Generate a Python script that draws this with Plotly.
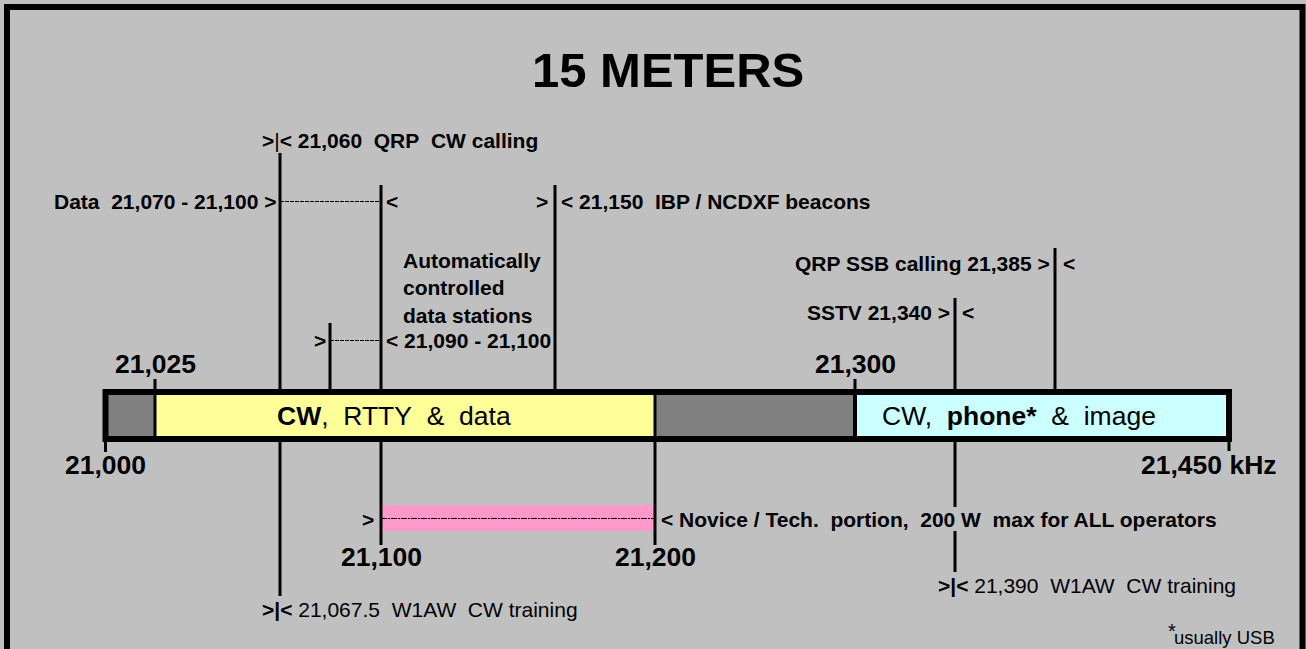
import numpy as np
import plotly.graph_objects as go

# ---------------- data ----------------
TITLE = "15 METERS"

# Band segments (kHz)
SEG_START = [21000, 21025, 21200, 21300]
SEG_END = [21025, 21200, 21300, 21450]
SEG_COLOR = ["#808080", "#FFFF99", "#808080", "#CCFFFF"]
SEG_LABEL = ["", "<b>CW</b>,  RTTY  &amp;  data", "", "CW,  <b>phone*</b>  &amp;  image"]

# Edge frequency labels
EDGE_KHZ = [21000, 21025, 21100, 21200, 21300, 21450]
EDGE_TEXT = ["21,000", "21,025", "21,100", "21,200", "21,300", "21,450 kHz"]

# Novice / Tech portion
NOVICE_KHZ = [21100, 21200]
NOVICE_TEXT = "< Novice / Tech.  portion,  200 W  max for ALL operators"

# Marker lines above the band
UP_KHZ = [21060, 21090, 21100, 21150, 21340, 21385]
# Marker lines below the band
DOWN_KHZ = [21060, 21100, 21200, 21340]

# Sub-band spans drawn as dashed brackets above the band
SPAN_START = [21060, 21090]
SPAN_END = [21100, 21100]
SPAN_LEFT_TEXT = ["Data  21,070 - 21,100 >", ">"]
SPAN_RIGHT_TEXT = ["<", "< 21,090 - 21,100"]

CALLING_TEXT = "21,060  QRP  CW calling"
BEACON_TEXT = "< 21,150  IBP / NCDXF beacons"
AUTO_TEXT = ["Automatically", "controlled", "data stations"]
QRP_SSB_TEXT = "QRP SSB calling 21,385 >"
SSTV_TEXT = "SSTV 21,340 >"
W1AW_TEXT = ["21,067.5  W1AW  CW training", "21,390  W1AW  CW training"]
FOOTNOTE = "usually USB"

# Schematic (not-to-scale) frequency scale of the diagram
SCALE_KHZ = [21000, 21025, 21060, 21090, 21100, 21150, 21200, 21300, 21340, 21385, 21450]
SCALE_POS = [105.5, 155, 280, 330, 381, 555, 655, 855, 955, 1055, 1229]


def pos(k):
    return float(np.interp(k, SCALE_KHZ, SCALE_POS))


def esc(s):
    return (s.replace("&", "&amp;").replace("<", "&lt;").replace(">", "&gt;")
            .replace("  ", "\u00a0\u00a0"))


def sp(s):
    return s.replace("  ", "\u00a0\u00a0")


FONT = "Liberation Sans, Arial, sans-serif"
BG = "#C0C0C0"
SMALL = 21
BIG = 26.5

fig = go.Figure()
# invisible trace to establish the axes
fig.add_trace(go.Scatter(x=[pos(k) for k in EDGE_KHZ], y=[416] * len(EDGE_KHZ),
                         mode="markers", marker=dict(opacity=0, size=1), hoverinfo="skip",
                         showlegend=False))

shapes = []
ann = []


def text(x, y, s, anchor="left", size=SMALL, bold=True, raw=False):
    t = s if raw else esc(s)
    if bold:
        t = "<b>" + t + "</b>"
    ann.append(dict(x=x, y=y, xref="x", yref="y", text=t, showarrow=False,
                    xanchor=anchor, yanchor="middle", align=anchor,
                    font=dict(family=FONT, size=size, color="black")))


def vline(x, y0, y1, w=3):
    shapes.append(dict(type="line", xref="x", yref="y", x0=x, x1=x, y0=y0, y1=y1,
                       line=dict(color="black", width=w)))


BAR_TOP, BAR_BOT = 392, 439

# band segments
for s, e, c in zip(SEG_START, SEG_END, SEG_COLOR):
    shapes.append(dict(type="rect", xref="x", yref="y", x0=pos(s), x1=pos(e),
                       y0=BAR_TOP, y1=BAR_BOT, fillcolor=c, line=dict(width=0), layer="above"))
# dividers
for k, w in zip(SEG_START[1:], [3, 3, 4]):
    vline(pos(k), BAR_TOP, BAR_BOT, w)
# frame
shapes.append(dict(type="rect", xref="x", yref="y", x0=pos(SEG_START[0]), x1=pos(SEG_END[-1]),
                   y0=BAR_TOP, y1=BAR_BOT, line=dict(color="black", width=6)))

# novice band
shapes.append(dict(type="rect", xref="x", yref="y", x0=pos(NOVICE_KHZ[0]), x1=pos(NOVICE_KHZ[1]),
                   y0=505, y1=531, fillcolor="#FF99CC", line=dict(width=0), layer="below"))
shapes.append(dict(type="line", xref="x", yref="y", x0=pos(NOVICE_KHZ[0]), x1=pos(NOVICE_KHZ[1]),
                   y0=518.5, y1=518.5, line=dict(color="black", width=1, dash="6px,1px,2px,1px")))

# ticks at edges
vline(pos(21000), 442, 452)
vline(pos(21450), 442, 451)
vline(pos(21025), 379, 389)
vline(pos(21300), 379, 389)

# upper marker lines
UP_TOP = [153, 323, 185, 185, 298, 248]
for k, t in zip(UP_KHZ, UP_TOP):
    vline(pos(k), t, 389)
# lower marker lines
DOWN_BOT = [596, 545, 545, 572]
for k, b in zip(DOWN_KHZ, DOWN_BOT):
    if k == 21340:
        vline(pos(k), 442, 507)
        vline(pos(k), 531, b)
    else:
        vline(pos(k), 442, b)

# dashed spans
SPAN_Y = [201, 340]
for s, e, y, lt, rt in zip(SPAN_START, SPAN_END, SPAN_Y, SPAN_LEFT_TEXT, SPAN_RIGHT_TEXT):
    shapes.append(dict(type="line", xref="x", yref="y", x0=pos(s), x1=pos(e), y0=y + 0.5, y1=y + 0.5,
                       line=dict(color="black", width=1, dash="4px,1px")))
    text(pos(s) - 2, y, lt, "right")
    text(pos(e) + 3, y, rt, "left")

# title
text(668, 70, TITLE, "center", size=49)

# QRP CW calling
text(260, 140, "<b>&gt;</b>|<b>&lt; " + sp(CALLING_TEXT) + "</b>", "left", bold=False, raw=True)
# beacons
text(pos(21150) - 5, 201, ">", "right")
text(pos(21150) + 4, 201, BEACON_TEXT, "left")
# automatically controlled
text(401, 288, "<br>".join(AUTO_TEXT), "left", raw=True)
# QRP SSB / SSTV
text(pos(21385) - 3, 263, QRP_SSB_TEXT, "right")
text(pos(21385) + 6, 263, "<", "left")
text(pos(21340) - 3, 312, SSTV_TEXT, "right")
text(pos(21340) + 5, 312, "<", "left")

# edge labels
EDGE_ANCHOR = ["center", "center", "center", "center", "center", "left"]
EDGE_Y = [465, 364, 557, 557, 364, 465]
for k, t, a, y in zip(EDGE_KHZ, EDGE_TEXT, EDGE_ANCHOR, EDGE_Y):
    x = pos(k) if a == "center" else pos(k) - 90
    text(x, y, t, a, size=BIG)

# bar labels
text(394, 416, sp(SEG_LABEL[1]), "center", size=BIG, bold=False, raw=True)
text(1019, 416, sp(SEG_LABEL[3]), "center", size=BIG, bold=False, raw=True)

# novice text
text(pos(NOVICE_KHZ[0]) - 5, 519, ">", "right")
text(pos(NOVICE_KHZ[1]) + 4, 519, NOVICE_TEXT, "left")

# W1AW
text(260, 609, "<b>&gt;|&lt;</b> " + sp(W1AW_TEXT[0]), "left", bold=False, raw=True)
text(936, 585, "<b>&gt;|&lt;</b> " + sp(W1AW_TEXT[1]), "left", bold=False, raw=True)

# footnote
text(1277, 637, FOOTNOTE, "right", size=18.5, bold=False)
text(1172, 631, "*", "center", size=20, bold=False)

# outer border
shapes.append(dict(type="rect", xref="x", yref="y", x0=7, x1=1302.5, y0=7, y1=720,
                   line=dict(color="black", width=6)))

fig.update_layout(
    width=1306, height=649,
    margin=dict(l=0, r=0, t=0, b=0),
    paper_bgcolor=BG, plot_bgcolor=BG,
    xaxis=dict(range=[0, 1306], visible=False, fixedrange=True),
    yaxis=dict(range=[649, 0], visible=False, fixedrange=True),
    shapes=shapes, annotations=ann, showlegend=False,
)
fig.write_html("out.html", config={"displayModeBar": False},
               post_script="document.body.style.margin='0';document.body.style.overflow='hidden';")
